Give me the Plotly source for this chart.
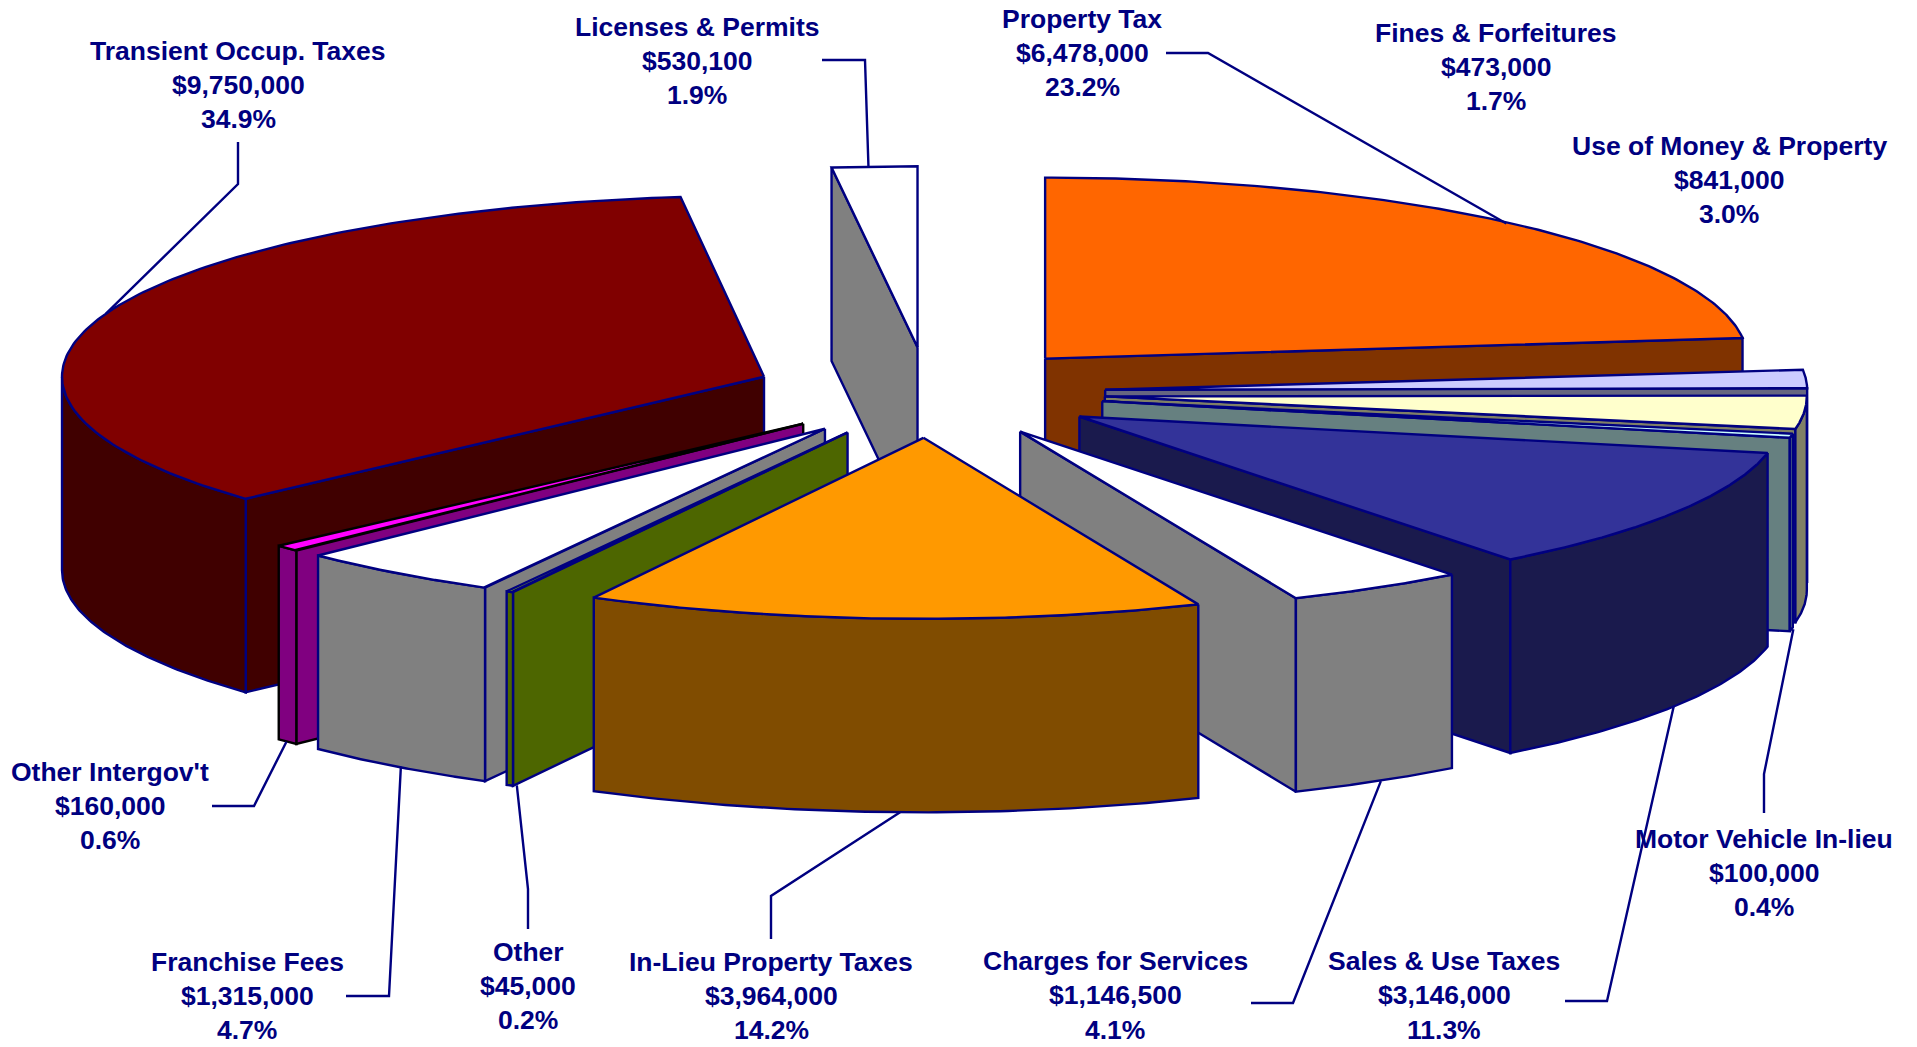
import numpy as np
import plotly.graph_objects as go

# General fund revenue by source, clockwise from twelve o'clock
categories = ["Property Tax", "Fines & Forfeitures", "Use of Money & Property",
              "Motor Vehicle In-lieu", "Sales & Use Taxes", "Charges for Services",
              "In-Lieu Property Taxes", "Other", "Franchise Fees", "Other Intergov't",
              "Transient Occup. Taxes", "Licenses & Permits"]
revenues = [6478000, 473000, 841000, 100000, 3146000, 1146500,
            3964000, 45000, 1315000, 160000, 9750000, 530100]

top_colors = ["#FF6600", "#CCCCFF", "#FFFFCC", "#CCFFFF", "#333399", "#FFFFFF",
              "#FF9900", "#99CC00", "#FFFFFF", "#FF00FF", "#800000", "#FFFFFF"]
side_colors = ["#803300", "#666680", "#808066", "#668080", "#1A1A4D", "#808080",
               "#804C00", "#4D6600", "#808080", "#800080", "#400000", "#808080"]
edge_colors = ["#000080"] * 9 + ["#000000"] + ["#000080"] * 2

# Projection of the tilted pie onto the page, in pixels
CX, CY = 928.0, 392.5
RX, RY = 702.0, 181.0
EXPLODE = 176.0
DEPTH = 193.5
NAVY = "#000080"
LINE_W = 2.4

# Small per-slice corrections: sideways shift of the apex and widening of the rim
apex_shift = [0, 1.5, 1.5, 1.5, 2, 3, 3, 3, 3, 3, 1, 0]
rim_stretch = [1, 1, 1, 1, 1.001, 1.003, 1.0, 1.015, 1.012, 1.012, 1.0, 1.03]

# Label centres (x, y of the three text lines) and leader bend points
label_x = [1082, 1496, 1729, 1764, 1444, 1115, 771, 528, 247, 110, 238, 697]
label_y = [18.5, 32.5, 145.5, 838.5, 961, 961, 961.5, 951.5, 961.5, 771.5, 50.5, 26.5]
LINE_GAP = 34.3
leader_bends = [
    [(1166, 53), (1208, 53)],
    None,
    None,
    [(1764, 813), (1764, 774)],
    [(1565, 1001), (1607, 1001)],
    [(1251, 1003), (1293, 1003)],
    [(771, 939), (771, 896)],
    [(528, 929), (528, 889)],
    [(346, 996), (389, 996)],
    [(212, 806), (254, 806)],
    [(238, 142), (238, 184)],
    [(822, 60), (865, 60)],
]
# Sideways offset of each leader's attachment point along the rim
leader_end_shift = [-6, 0, 0, 2, -2, 4, 7, 7, 4, -1, 0, -6]


def rim(angle, apex, stretch=1.0):
    """Point on the top rim for a clockwise-from-north angle in radians."""
    return apex[0] + RX * stretch * np.sin(angle), apex[1] - RY * np.cos(angle)


def face(xs, ys, fill, edge, name):
    return go.Scatter(x=list(xs), y=list(ys), mode="lines", fill="toself",
                      fillcolor=fill, line=dict(color=edge, width=LINE_W),
                      hoverinfo="text", text=name, showlegend=False)


total = sum(revenues)
edges = 2 * np.pi * np.concatenate([[0.0], np.cumsum(revenues)]) / total
mids = (edges[:-1] + edges[1:]) / 2
apexes = [(CX + EXPLODE * np.sin(m) + apex_shift[k], CY - EXPLODE * RY / RX * np.cos(m))
          for k, m in enumerate(mids)]

fig = go.Figure()

# Painter's order: slices furthest from the viewer are drawn first
for i in sorted(range(len(revenues)), key=lambda k: -np.cos(mids[k])):
    a0, a1 = edges[i], edges[i + 1]
    apex = apexes[i]
    fill, side, edge, name = top_colors[i], side_colors[i], edge_colors[i], categories[i]
    st = rim_stretch[i]

    # Radial walls: keep those that face the viewer
    for ang, sign in ((a0, -1), (a1, 1)):
        px, py = rim(ang, apex, st)
        facing = sign * (-np.sin(ang))
        if facing < 0:
            fig.add_trace(face([apex[0], px, px, apex[0], apex[0]],
                               [apex[1], py, py + DEPTH, apex[1] + DEPTH, apex[1]],
                               side, edge, name))

    # Outer wall: only the near half of the rim can be seen
    lo, hi = max(a0, np.pi / 2), min(a1, 3 * np.pi / 2)
    if hi > lo:
        t = np.linspace(lo, hi, 80)
        xs, ys = rim(t, apex, st)
        fig.add_trace(face(np.r_[xs, xs[::-1], xs[0]],
                           np.r_[ys, ys[::-1] + DEPTH, ys[0]],
                           side, edge, name))

    # Top surface
    t = np.linspace(a0, a1, 160)
    xs, ys = rim(t, apex, st)
    fig.add_trace(face(np.r_[apex[0], xs, apex[0]], np.r_[apex[1], ys, apex[1]],
                       fill, edge, name))

# Leader lines run from the label to the middle of the slice's rim
for i, bends in enumerate(leader_bends):
    if not bends:
        continue
    ex, ey = rim(mids[i], apexes[i], rim_stretch[i])
    ex += leader_end_shift[i]
    if np.cos(mids[i]) < 0:
        ey += DEPTH
    fig.add_trace(go.Scatter(x=[p[0] for p in bends] + [ex], y=[p[1] for p in bends] + [ey],
                             mode="lines", line=dict(color=NAVY, width=LINE_W),
                             hoverinfo="skip", showlegend=False))

# Three-line labels: name, amount and share
for i, name in enumerate(categories):
    lines = [name, f"${revenues[i]:,}", f"{100 * revenues[i] / total:.1f}%"]
    for j, line in enumerate(lines):
        fig.add_annotation(x=label_x[i], y=label_y[i] + j * LINE_GAP, text=f"<b>{line}</b>",
                           xref="x", yref="y", showarrow=False, xanchor="center", yanchor="middle",
                           font=dict(family="Liberation Sans", size=26.5, color=NAVY))

fig.update_layout(width=1917, height=1047, margin=dict(l=0, r=0, t=0, b=0),
                  paper_bgcolor="white", plot_bgcolor="white", showlegend=False,
                  xaxis=dict(range=[0, 1917], visible=False, fixedrange=True),
                  yaxis=dict(range=[1047, 0], visible=False, fixedrange=True))

fig.write_html("out.html", config=dict(displayModeBar=False))
